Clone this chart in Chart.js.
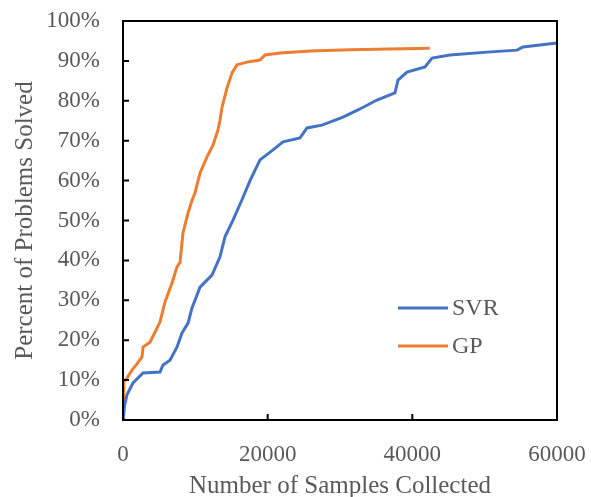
<!DOCTYPE html>
<html>
<head>
<meta charset="utf-8">
<script src="https://cdn.jsdelivr.net/npm/chart.js@4"></script>
<style>
  html, body { margin: 0; padding: 0; background: #fff; }
  #wrap { width: 591px; height: 497px; }
</style>
</head>
<body>
<div id="wrap"><canvas id="lineChart"></canvas></div>
<script>
// values
var svrX = [0, 200, 550, 1380, 2770, 5120, 5530, 6500, 7470, 8160, 8990, 9540, 10650, 12300, 13410, 14100, 15210, 16450, 17560, 18940, 20740, 22120, 24470, 25440, 27510, 30420, 32490, 35110, 37600, 38020, 39260, 41750, 42720, 45210, 50320, 54470, 55300, 60000]
var svrY = [0, 3.5, 6.3, 9.3, 11.8, 12, 13.8, 15, 18.3, 21.8, 24.3, 28.1, 33.3, 36.3, 40.9, 45.9, 50.1, 55.2, 60, 65.2, 67.7, 69.7, 70.7, 73.2, 73.9, 75.9, 77.7, 80.2, 82, 85.2, 87.2, 88.5, 90.7, 91.5, 92.2, 92.7, 93.5, 94.5]
var gpX = [0, 100, 550, 1240, 1900, 2630, 2770, 3730, 4420, 5120, 5810, 6770, 7470, 7880, 8300, 8990, 9540, 9950, 10650, 11600, 12440, 13130, 13400, 13690, 14380, 15070, 15760, 17140, 18940, 19630, 21700, 25850, 31400, 42400]
var gpY = [0, 9.5, 10.5, 12.5, 14, 15.8, 18.3, 19.5, 22, 24.6, 29.6, 34.3, 38.4, 39.5, 46.9, 51.9, 55, 56.9, 61.9, 65.9, 68.9, 72.7, 75, 78.4, 83.2, 87, 89, 89.7, 90.2, 91.5, 92, 92.5, 92.8, 93.2]
var seriesNames = ['SVR', 'GP']
var xTicks = [0, 20000, 40000, 60000]
var yTicks = [0, 10, 20, 30, 40, 50, 60, 70, 80, 90, 100]

var colors = ['#4472C4', '#ED7D31']
var textColor = '#595959'
var fontFamily = "'Liberation Serif', 'Times New Roman', serif"

function toPoints(xs, ys) {
    return xs.map((x, i) => ({x: x, y: ys[i]}))
}

// frame, inward ticks and the legend inside the plot
var framePlugin = {
    id: 'frame',
    afterDraw(chart) {
        var ctx = chart.ctx
        var a = chart.chartArea
        var xs = chart.scales.x
        var ys = chart.scales.y
        ctx.save()
        ctx.strokeStyle = '#000'
        ctx.lineWidth = 2
        ctx.strokeRect(a.left, a.top, a.right - a.left, a.bottom - a.top)
        ctx.beginPath()
        xTicks.forEach(v => {
            var px = xs.getPixelForValue(v)
            ctx.moveTo(px, a.bottom)
            ctx.lineTo(px, a.bottom - 6)
        })
        yTicks.forEach(v => {
            var py = ys.getPixelForValue(v)
            ctx.moveTo(a.left, py)
            ctx.lineTo(a.left + 6, py)
        })
        ctx.stroke()

        // legend
        ctx.font = '24px ' + fontFamily
        ctx.textBaseline = 'middle'
        chart.data.datasets.forEach((ds, i) => {
            var ly = 308 + i * 38
            ctx.strokeStyle = ds.borderColor
            ctx.lineWidth = 3
            ctx.beginPath()
            ctx.moveTo(398, ly)
            ctx.lineTo(448, ly)
            ctx.stroke()
            ctx.fillStyle = textColor
            ctx.fillText(ds.label, 452, ly + 1)
        })
        ctx.restore()
    }
}

var lineChart = new Chart(document.querySelector('#lineChart'), {
    type: 'scatter',
    data: {
        datasets: [
            {label: seriesNames[0], data: toPoints(svrX, svrY), borderColor: colors[0], backgroundColor: colors[0]},
            {label: seriesNames[1], data: toPoints(gpX, gpY), borderColor: colors[1], backgroundColor: colors[1]}
        ]
    },
    options: {
        responsive: true,
        maintainAspectRatio: false,
        animation: false,
        showLine: true,
        layout: { padding: { top: 21, right: 34, left: 0, bottom: 0 } },
        elements: {
            point: { radius: 0 },
            line: { borderWidth: 3, tension: 0 }
        },
        plugins: {
            legend: { display: false },
            tooltip: { enabled: false }
        },
        scales: {
            x: {
                type: 'linear',
                min: 0,
                max: 60000,
                afterFit: s => {
                    s.height = 77
                    s.paddingLeft = 0
                    s.paddingRight = 0
                },
                afterBuildTicks: s => { s.ticks = xTicks.map(v => ({value: v})) },
                grid: { display: false, drawTicks: false },
                border: { display: false },
                ticks: {
                    padding: 21,
                    maxRotation: 0,
                    color: textColor,
                    font: { family: fontFamily, size: 23 },
                    callback: v => String(v)
                },
                title: {
                    display: true,
                    text: 'Number of Samples Collected',
                    color: textColor,
                    font: { family: fontFamily, size: 25 },
                    padding: { top: 0, bottom: -4 }
                }
            },
            y: {
                min: 0,
                max: 100,
                afterFit: s => {
                    s.width = 123
                    s.paddingTop = 0
                    s.paddingBottom = 0
                },
                afterBuildTicks: s => { s.ticks = yTicks.map(v => ({value: v})) },
                grid: { display: false, drawTicks: false },
                border: { display: false },
                ticks: {
                    padding: 23,
                    color: textColor,
                    font: { family: fontFamily, size: 23 },
                    callback: v => v + '%'
                },
                title: {
                    display: true,
                    text: 'Percent of Problems Solved',
                    color: textColor,
                    font: { family: fontFamily, size: 25 },
                    padding: { top: 10, bottom: 0 }
                }
            }
        }
    },
    plugins: [framePlugin]
})
</script>
</body>
</html>
